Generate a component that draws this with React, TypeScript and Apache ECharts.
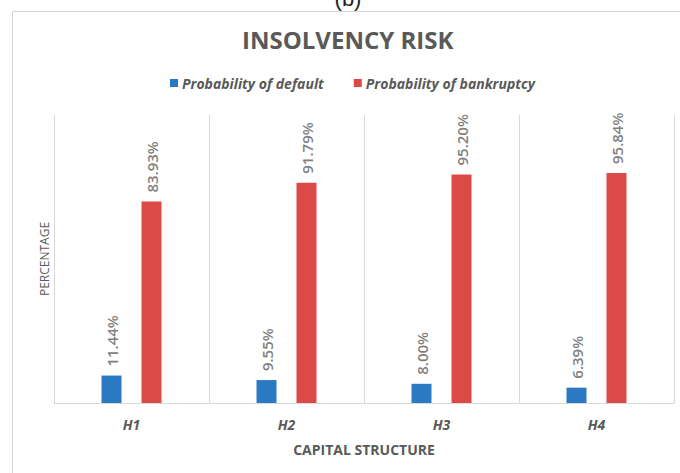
import React, { useEffect, useRef } from "react";
import * as echarts from "echarts";

const categories = ["H1", "H2", "H3", "H4"];
const probabilityOfDefault = [11.44, 9.55, 8.0, 6.39];
const probabilityOfBankruptcy = [83.93, 91.79, 95.2, 95.84];
const seriesNames = ["Probability of default", "Probability of bankruptcy"];

const FONT = "'Open Sans', 'Noto Sans', sans-serif";
const GREY = "#595959";

export default function App() {
  const ref = useRef<HTMLDivElement>(null);
  useEffect(() => {
    if (!ref.current) return;
    const chart = echarts.init(ref.current, undefined, { renderer: "svg" });
    const label = {
      show: true,
      position: "top",
      rotate: 90,
      align: "left",
      verticalAlign: "middle",
      distance: 9,
      fontFamily: FONT,
      fontSize: 15,
      fontWeight: 600,
      color: "#7f7f7f",
      formatter: (p: any) => p.value.toFixed(2) + "%",
    };
    chart.setOption({
      animation: false,
      backgroundColor: "#ffffff",
      graphic: [
        {
          type: "rect",
          shape: { x: 12.5, y: 11.5, width: 700, height: 500 },
          style: { fill: "none", stroke: "#d4d4d4", lineWidth: 1 },
          silent: true,
        },
        {
          type: "text",
          x: 348,
          y: 9,
          style: {
            text: "(b)",
            fontSize: 22,
            fontFamily: "'Liberation Sans', sans-serif",
            fill: "#222",
            align: "center",
            verticalAlign: "bottom",
          },
          silent: true,
        },
      ],
      title: {
        text: "INSOLVENCY RISK",
        left: 242,
        top: 27,
        padding: 0,
        textStyle: {
          fontFamily: FONT,
          fontSize: 24,
          fontWeight: "bold",
          color: GREY,
        },
      },
      legend: {
        left: 170,
        top: 76,
        padding: 0,
        itemWidth: 8,
        itemHeight: 8,
        itemGap: 30,
        icon: "rect",
        data: seriesNames,
        textStyle: {
          fontFamily: FONT,
          fontSize: 14,
          fontStyle: "italic",
          fontWeight: "bold",
          color: GREY,
          padding: [0, 0, 0, -1],
        },
      },
      grid: { left: 54, right: 6, top: 115, bottom: 70, containLabel: false },
      xAxis: {
        type: "category",
        data: categories,
        axisTick: { show: false },
        axisLine: { show: true, lineStyle: { color: "#d9d9d9", width: 1 } },
        splitLine: { show: true, lineStyle: { color: "#d9d9d9", width: 1 } },
        axisLabel: {
          margin: 14,
          fontFamily: FONT,
          fontSize: 14,
          fontStyle: "italic",
          fontWeight: "bold",
          color: GREY,
        },
        name: "CAPITAL STRUCTURE",
        nameLocation: "middle",
        nameGap: 39,
        nameTextStyle: {
          fontFamily: FONT,
          fontSize: 14,
          fontWeight: "bold",
          color: GREY,
        },
      },
      yAxis: {
        type: "value",
        min: 0,
        max: 120,
        axisLine: { show: false },
        axisTick: { show: false },
        axisLabel: { show: false },
        splitLine: { show: false },
        name: "PERCENTAGE",
        nameLocation: "middle",
        nameGap: 4,
        nameTextStyle: {
          fontFamily: FONT,
          fontSize: 12,
          color: GREY,
        },
      },
      series: [
        {
          name: seriesNames[0],
          type: "bar",
          data: probabilityOfDefault,
          barWidth: 20,
          barGap: "100%",
          itemStyle: { color: "#2b79c2" },
          label,
        },
        {
          name: seriesNames[1],
          type: "bar",
          data: probabilityOfBankruptcy,
          barWidth: 20,
          barGap: "100%",
          itemStyle: { color: "#dc4a48" },
          label,
        },
      ],
    });
    return () => chart.dispose();
  }, []);
  return (
    <div
      ref={ref}
      style={{ position: "absolute", left: 0, top: 0, width: 680, height: 473 }}
    />
  );
}
